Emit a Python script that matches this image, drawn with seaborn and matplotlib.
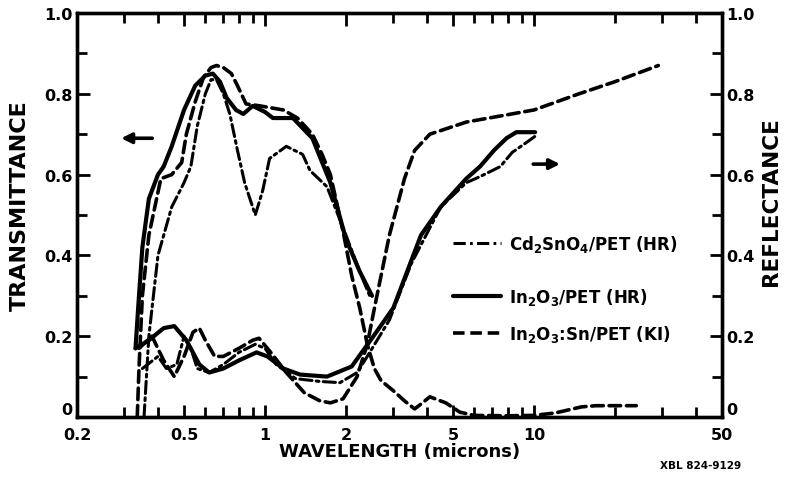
import numpy as np
import pandas as pd
import matplotlib
matplotlib.use("Agg")
import matplotlib.pyplot as plt
import seaborn as sns
from matplotlib.lines import Line2D
from matplotlib.ticker import FixedLocator, NullFormatter

# ---------------- data ----------------
# Transmittance (left axis)
t_in2o3_wl = [0.33, 0.34, 0.35, 0.37, 0.40, 0.42, 0.45, 0.50, 0.55, 0.60, 0.64, 0.68, 0.72, 0.78, 0.83,
              0.90, 1.00, 1.07, 1.27, 1.50, 1.75, 2.00, 2.25, 2.50]
t_in2o3 = [0.17, 0.30, 0.42, 0.54, 0.60, 0.62, 0.67, 0.76, 0.82, 0.845, 0.85, 0.83, 0.79, 0.76, 0.75,
           0.77, 0.755, 0.74, 0.74, 0.69, 0.58, 0.44, 0.36, 0.30]

t_ito_wl = [0.335, 0.34, 0.35, 0.37, 0.41, 0.45, 0.49, 0.51, 0.55, 0.59, 0.63, 0.66, 0.70, 0.75, 0.79,
            0.85, 0.96, 1.17, 1.32, 1.50, 1.63, 1.75, 1.95, 2.10, 2.25, 2.40, 2.55, 2.70, 3.00, 3.30,
            3.60, 3.85, 4.10, 4.70, 5.30, 6.00, 8.00, 10.0, 12.0, 15.0, 17.0, 20.0, 24.0]
t_ito = [0.0, 0.12, 0.30, 0.45, 0.59, 0.60, 0.63, 0.70, 0.78, 0.84, 0.865, 0.87, 0.865, 0.85, 0.82,
         0.775, 0.77, 0.76, 0.74, 0.70, 0.65, 0.60, 0.46, 0.35, 0.27, 0.18, 0.12, 0.09, 0.065, 0.04,
         0.02, 0.035, 0.05, 0.035, 0.012, 0.004, 0.003, 0.004, 0.01, 0.025, 0.028, 0.028, 0.028]

t_cd_wl = [0.355, 0.37, 0.40, 0.45, 0.50, 0.53, 0.56, 0.60, 0.63, 0.66, 0.70, 0.74, 0.79, 0.84, 0.92,
           0.98, 1.04, 1.20, 1.38, 1.47, 1.70, 2.00, 2.25, 2.45]
t_cd = [0.0, 0.20, 0.40, 0.52, 0.58, 0.62, 0.72, 0.80, 0.835, 0.835, 0.80, 0.75, 0.66, 0.58, 0.50,
        0.56, 0.64, 0.67, 0.65, 0.61, 0.57, 0.45, 0.36, 0.30]

# Reflectance (right axis)
r_in2o3_wl = [0.33, 0.37, 0.42, 0.46, 0.51, 0.57, 0.62, 0.70, 0.80, 0.93, 1.02, 1.17, 1.35, 1.70,
              2.10, 2.53, 3.00, 3.80, 4.50, 5.60, 6.30, 7.10, 7.90, 8.60, 10.1]
r_in2o3 = [0.17, 0.19, 0.22, 0.225, 0.19, 0.13, 0.11, 0.12, 0.14, 0.16, 0.15, 0.12, 0.105, 0.10,
           0.125, 0.20, 0.27, 0.45, 0.52, 0.59, 0.62, 0.66, 0.69, 0.705, 0.705]

r_ito_wl = [0.34, 0.38, 0.42, 0.46, 0.50, 0.54, 0.57, 0.60, 0.65, 0.70, 0.80, 0.90, 0.95, 1.05, 1.20,
            1.40, 1.60, 1.75, 1.95, 2.20, 2.40, 2.57, 2.90, 3.30, 3.60, 4.10, 5.60, 10.0, 14.7, 20.0, 29.0]
r_ito = [0.17, 0.20, 0.14, 0.10, 0.15, 0.21, 0.22, 0.19, 0.15, 0.15, 0.17, 0.19, 0.195, 0.16, 0.11,
         0.06, 0.04, 0.035, 0.045, 0.10, 0.18, 0.28, 0.45, 0.59, 0.66, 0.70, 0.73, 0.76, 0.80, 0.83, 0.87]

r_cd_wl = [0.35, 0.40, 0.43, 0.47, 0.50, 0.53, 0.56, 0.62, 0.70, 0.80, 0.92, 1.00, 1.10, 1.30, 1.60,
           1.90, 2.20, 2.40, 2.90, 3.50, 4.50, 5.60, 6.30, 7.50, 8.30, 9.40, 10.1]
r_cd = [0.12, 0.15, 0.12, 0.13, 0.20, 0.17, 0.12, 0.11, 0.13, 0.16, 0.18, 0.17, 0.13, 0.095, 0.088,
        0.085, 0.11, 0.15, 0.24, 0.38, 0.52, 0.58, 0.595, 0.62, 0.655, 0.68, 0.695]

labels = ["Cd$_2$SnO$_4$/PET (HR)", "In$_2$O$_3$/PET (HR)", "In$_2$O$_3$:Sn/PET (KI)"]
x_ticks = [0.2, 0.5, 1, 2, 5, 10, 50]
x_ticklabels = ["0.2", "0.5", "1", "2", "5", "10", "50"]
x_minor = [0.3, 0.4, 0.6, 0.7, 0.8, 0.9, 3, 4, 6, 7, 8, 9, 20, 30, 40]
y_ticks = [0, 0.2, 0.4, 0.6, 0.8, 1.0]
y_ticklabels = ["0", "0.2", "0.4", "0.6", "0.8", "1.0"]
y_minor = [0.1, 0.3, 0.5, 0.7, 0.9]

# ---------------- style ----------------
sns.set_theme(style="white")
plt.rcParams["font.family"] = ["DejaVu Sans"]
plt.rcParams["font.weight"] = "bold"
plt.rcParams["text.color"] = "black"
plt.rcParams["axes.labelcolor"] = "black"
plt.rcParams["xtick.color"] = "black"
plt.rcParams["ytick.color"] = "black"
plt.rcParams["xtick.labelcolor"] = "black"
plt.rcParams["ytick.labelcolor"] = "black"
plt.rcParams["mathtext.fontset"] = "custom"
plt.rcParams["mathtext.rm"] = "DejaVu Sans:bold"
plt.rcParams["mathtext.it"] = "DejaVu Sans:bold"
plt.rcParams["mathtext.bf"] = "DejaVu Sans:bold"

DASH = (0, (3.2, 1.6))
DASHDOT = (0, (4.0, 1.4, 0.9, 1.4))
styles = {
    "cd": dict(color="black", lw=2.2, linestyle=DASHDOT),
    "in": dict(color="black", lw=3.0, linestyle="-"),
    "ito": dict(color="black", lw=2.6, linestyle=DASH),
}

fig = plt.figure(figsize=(7.85, 4.85), dpi=100)
ax = fig.add_axes([77 / 785, 1 - 418 / 485, 645 / 785, 404 / 485])
ax2 = ax.twinx()

def draw(axis, wl, val, key):
    df = pd.DataFrame({"wl": wl, "v": val})
    st = styles[key]
    sns.lineplot(data=df, x="wl", y="v", ax=axis, sort=False, estimator=None,
                 color=st["color"], lw=st["lw"], linestyle=st["linestyle"],
                 solid_capstyle="round", dash_capstyle="round")

draw(ax, t_cd_wl, t_cd, "cd")
draw(ax, t_in2o3_wl, t_in2o3, "in")
draw(ax, t_ito_wl, t_ito, "ito")
draw(ax2, r_cd_wl, r_cd, "cd")
draw(ax2, r_in2o3_wl, r_in2o3, "in")
draw(ax2, r_ito_wl, r_ito, "ito")

for a in (ax, ax2):
    a.set_xscale("log")
    a.set_xlim(0.2, 50)
    a.set_ylim(0, 1.0)
    a.set_xlabel("")
    a.set_ylabel("")
    a.grid(False)

ax.xaxis.set_major_locator(FixedLocator(x_ticks))
ax.set_xticklabels(x_ticklabels)
ax.xaxis.set_minor_locator(FixedLocator(x_minor))
ax.xaxis.set_minor_formatter(NullFormatter())
ax.yaxis.set_major_locator(FixedLocator(y_ticks))
ax.set_yticklabels(y_ticklabels)
ax.yaxis.set_minor_locator(FixedLocator(y_minor))
ax2.yaxis.set_major_locator(FixedLocator(y_ticks))
ax2.set_yticklabels(y_ticklabels)
ax2.yaxis.set_minor_locator(FixedLocator(y_minor))

for a in (ax, ax2):
    for s in a.spines.values():
        s.set_linewidth(2.4)
        s.set_color("black")
    a.tick_params(which="both", direction="in", width=2.0, color="black",
                  labelcolor="black", labelsize=11.5, pad=3)
    a.tick_params(which="major", length=9)
    a.tick_params(which="minor", length=7)
ax.tick_params(axis="x", which="both", top=True, bottom=True, pad=7)
ax.tick_params(axis="y", which="both", left=True, right=False)
ax2.tick_params(axis="y", which="both", right=True, left=False)
for lab in ax.get_xticklabels() + ax.get_yticklabels() + ax2.get_yticklabels():
    lab.set_fontweight("bold")
# the "0" labels sit slightly above the bottom axis line in the reference
ax.get_yticklabels()[0].set_va("bottom")
ax2.get_yticklabels()[0].set_va("bottom")

ax.set_xlabel("WAVELENGTH (microns)", fontsize=13, fontweight="bold", labelpad=0, color="black")
ax.set_ylabel("TRANSMITTANCE", fontsize=16, fontweight="bold", color="black")
ax2.set_ylabel("REFLECTANCE", fontsize=15.5, fontweight="bold", color="black")
ax.yaxis.set_label_coords(-0.073, 0.525)
ax2.yaxis.set_label_coords(1.060, 0.535)

# direction arrows (which axis each set of curves belongs to)
ax.annotate("", xy=(0.285, 0.69), xytext=(0.39, 0.69), xycoords="data",
            arrowprops=dict(arrowstyle="-|>,head_length=0.5,head_width=0.25", color="black", lw=2.6))
ax.annotate("", xy=(12.8, 0.626), xytext=(9.7, 0.626), xycoords="data",
            arrowprops=dict(arrowstyle="-|>,head_length=0.5,head_width=0.25", color="black", lw=2.6))

handles = [Line2D([], [], **styles["cd"]), Line2D([], [], **styles["in"]),
           Line2D([], [], **styles["ito"])]
legprops = dict(frameon=False, handlelength=2.9, handletextpad=0.45, labelspacing=0.95,
                borderpad=0, borderaxespad=0, prop=dict(size=12, weight="bold"), loc="upper left",
                labelcolor="black")
leg1 = ax2.legend(handles[:1], labels[:1], bbox_to_anchor=(0.583, 0.455), **legprops)
ax2.add_artist(leg1)
ax2.legend(handles[1:], labels[1:], bbox_to_anchor=(0.583, 0.325), **legprops)

fig.text(0.893, 0.04, "XBL 824-9129", fontsize=7.5, fontweight="bold", ha="center", va="center",
         color="black")

fig.savefig("out.png", dpi=100, facecolor="white")
